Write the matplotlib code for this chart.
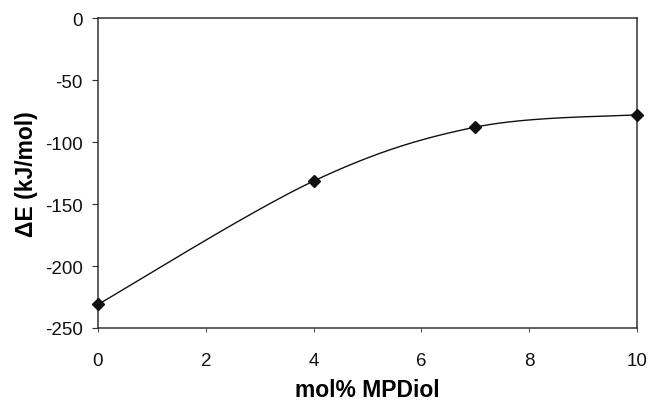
import numpy as np
import matplotlib
matplotlib.use("Agg")
import matplotlib.pyplot as plt

plt.rcParams["font.family"] = ["Liberation Sans", "DejaVu Sans"]
plt.rcParams["axes.unicode_minus"] = False

mol_pct = [0, 4, 7, 10]
delta_e = [-231, -131.5, -88, -78]
x_ticks = [0, 2, 4, 6, 8, 10]
y_ticks = [0, -50, -100, -150, -200, -250]


def smooth_line(xs, ys, n=60):
    # Catmull-Rom style cubic Bezier through the points (spreadsheet "smoothed line")
    p = np.column_stack([xs, ys]).astype(float)
    p_ext = np.vstack([p[0], p, p[-1]])
    out = []
    t = np.linspace(0, 1, n)[:, None]
    for i in range(len(p) - 1):
        p0, p1, p2, p3 = p_ext[i], p_ext[i + 1], p_ext[i + 2], p_ext[i + 3]
        c1 = p1 + (p2 - p0) / 6.0
        c2 = p2 - (p3 - p1) / 6.0
        seg = ((1 - t) ** 3) * p1 + 3 * ((1 - t) ** 2) * t * c1 \
            + 3 * (1 - t) * t ** 2 * c2 + t ** 3 * p2
        out.append(seg if i == 0 else seg[1:])
    pts = np.vstack(out)
    return pts[:, 0], pts[:, 1]


fig = plt.figure(figsize=(6.49, 4.02), dpi=100)
ax = fig.add_axes([0.151, 0.1816, 0.8305, 0.7711])

sx, sy = smooth_line(mol_pct, delta_e)
ax.plot(sx, sy, color="#111111", lw=1.0, zorder=2)
ax.plot(mol_pct, delta_e, linestyle="none", marker="D", ms=5.8,
        color="#111111", zorder=3, clip_on=False)

ax.set_xlim(0, 10)
ax.set_ylim(-250, 0)
ax.set_xticks(x_ticks)
ax.set_yticks(y_ticks)

for s in ax.spines.values():
    s.set_color("#333333")
    s.set_linewidth(1.1)

ax.tick_params(axis="y", direction="out", length=4, width=0.8,
               colors="#333333", labelcolor="#111111", labelsize=13.5, pad=7)
ax.tick_params(axis="x", direction="out", length=3, width=0.8,
               colors="#555555", labelcolor="#111111", labelsize=13.5, pad=14)

ax.set_xlabel("mol% MPDiol", fontsize=16.5, fontweight="bold", labelpad=7)
ax.set_ylabel("\u0394E (kJ/mol)", fontsize=16.5, fontweight="bold", labelpad=5)

fig.savefig("out.png", dpi=100, facecolor="white")
